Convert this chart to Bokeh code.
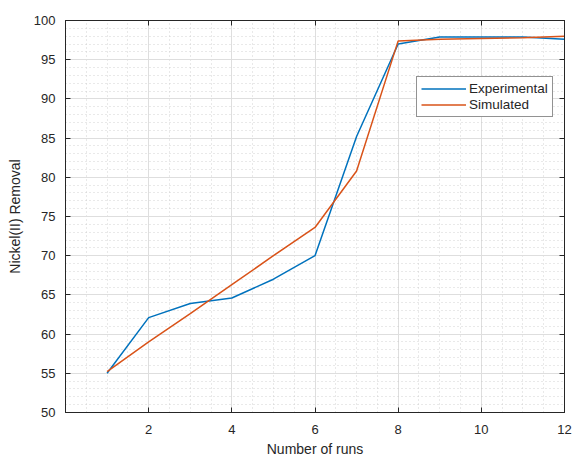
import numpy as np
from bokeh.plotting import figure
from bokeh.models import LinearAxis, FixedTicker, Range1d, Legend, LegendItem, CustomJSTickFormatter
from bokeh.embed import file_html
from bokeh.resources import INLINE

runs = [1, 2, 3, 4, 5, 6, 7, 8, 9, 10, 11, 12]
experimental = [55.0, 62.1, 63.9, 64.6, 67.0, 70.0, 85.2, 97.0, 97.9, 97.9, 97.9, 97.6]
simulated = [55.2, 59.0, 62.6, 66.3, 70.0, 73.6, 80.8, 97.4, 97.6, 97.7, 97.8, 98.0]
x_ticks = [2, 4, 6, 8, 10, 12]
y_ticks = [50, 55, 60, 65, 70, 75, 80, 85, 90, 95, 100]

FONT = "Liberation Sans"
AX = "#262626"

p = figure(width=573, height=459, output_backend="svg", toolbar_location=None,
           x_range=Range1d(0, 12), y_range=Range1d(50, 100),
           min_border_left=65, min_border_right=9, min_border_top=20, min_border_bottom=47,
           x_axis_label="Number of runs", y_axis_label="Nickel(II) Removal")
p.background_fill_color = "white"
p.border_fill_color = "white"
p.outline_line_color = AX
p.outline_line_width = 1

xt = FixedTicker(ticks=x_ticks, minor_ticks=list(np.arange(0, 12.01, 0.5)))
yt = FixedTicker(ticks=y_ticks, minor_ticks=list(range(50, 101)))

bottom = p.xaxis[0]
left = p.yaxis[0]
bottom.ticker = xt
left.ticker = yt

blank = CustomJSTickFormatter(code="return '';")
top = LinearAxis(ticker=xt, formatter=blank, major_label_standoff=0)
right = LinearAxis(ticker=yt, formatter=blank, major_label_standoff=0)
p.add_layout(top, "above")
p.add_layout(right, "right")

for ax in [bottom, left, top, right]:
    ax.axis_line_color = AX
    ax.major_tick_line_color = AX
    ax.major_tick_in = 5
    ax.major_tick_out = 0
    ax.minor_tick_line_color = None
    ax.major_label_text_color = AX
    ax.major_label_text_font = FONT

for ax in [bottom, left]:
    ax.major_label_text_font_size = "13px"
    ax.axis_label_text_font = FONT
    ax.axis_label_text_color = AX
    ax.axis_label_text_font_style = "normal"
    ax.axis_label_text_font_size = "14px"
bottom.major_label_standoff = 8
bottom.axis_label_standoff = 4
left.major_label_standoff = 6
left.axis_label_standoff = 8

for g in [p.xgrid[0], p.ygrid[0]]:
    g.grid_line_color = "#dedede"
    g.grid_line_width = 1
    g.minor_grid_line_color = "#c8c8c8"
    g.minor_grid_line_dash = "1 3"
    g.minor_grid_line_width = 1
    g.minor_grid_line_alpha = 0.8
p.xgrid[0].ticker = xt
p.ygrid[0].ticker = yt

r1 = p.line(runs, experimental, line_color="#0072BD", line_width=1.5)
r2 = p.line(runs, simulated, line_color="#D95319", line_width=1.5)

legend = Legend(items=[LegendItem(label="Experimental", renderers=[r1]),
                       LegendItem(label="Simulated", renderers=[r2])],
                location=(351, 295))
legend.label_text_font = FONT
legend.label_text_font_size = "13.5px"
legend.label_text_color = AX
legend.border_line_color = AX
legend.border_line_width = 1
legend.background_fill_color = "white"
legend.background_fill_alpha = 1
legend.glyph_width = 45
legend.glyph_height = 15
legend.label_height = 15
legend.spacing = 1
legend.padding = 4
legend.margin = 0
legend.label_standoff = 3
p.add_layout(legend, "center")

open("out.html", "w").write(file_html(p, INLINE))
